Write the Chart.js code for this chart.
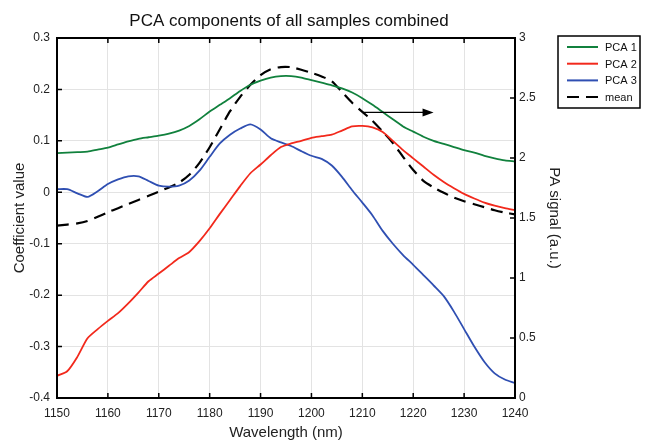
<!DOCTYPE html>
<html>
<head>
<meta charset="utf-8">
<script src="https://cdn.jsdelivr.net/npm/chart.js@4.4.1/dist/chart.umd.min.js"></script>
<style>
  html, body { margin:0; padding:0; background:#fff; }
  #wrap { width:647px; height:443px; }
</style>
</head>
<body>
<div id="wrap"><canvas id="pca"></canvas></div>
<script>
// data (2 nm steps)
const wavelengths = [1150,1152,1154,1156,1158,1160,1162,1164,1166,1168,1170,1172,1174,1176,1178,1180,1182,1184,1186,1188,1190,1192,1194,1196,1198,1200,1202,1204,1206,1208,1210,1212,1214,1216,1218,1220,1222,1224,1226,1228,1230,1232,1234,1236,1238,1240];

const pca1 = [0.076,0.077,0.078,0.079,0.083,0.087,0.093,0.099,0.104,0.107,0.110,0.114,0.120,0.129,0.142,0.157,0.170,0.183,0.197,0.209,0.217,0.223,0.226,0.226,0.223,0.218,0.213,0.208,0.202,0.194,0.183,0.170,0.156,0.142,0.128,0.118,0.108,0.100,0.094,0.088,0.082,0.077,0.071,0.066,0.062,0.060];

const pca2 = [-0.357,-0.348,-0.320,-0.284,-0.266,-0.250,-0.235,-0.216,-0.195,-0.173,-0.158,-0.143,-0.128,-0.116,-0.095,-0.070,-0.042,-0.015,0.012,0.037,0.054,0.072,0.088,0.095,0.100,0.106,0.109,0.112,0.120,0.128,0.129,0.126,0.117,0.100,0.082,0.066,0.050,0.034,0.020,0.008,-0.003,-0.012,-0.020,-0.026,-0.031,-0.035];

const pca3 = [0.006,0.006,-0.002,-0.009,0.002,0.016,0.025,0.031,0.031,0.022,0.013,0.011,0.013,0.023,0.042,0.069,0.095,0.112,0.124,0.132,0.122,0.105,0.097,0.090,0.080,0.071,0.065,0.052,0.030,0.004,-0.020,-0.045,-0.075,-0.100,-0.122,-0.141,-0.161,-0.181,-0.202,-0.232,-0.266,-0.300,-0.330,-0.352,-0.364,-0.371];

// mean PA signal, right axis
const meanSignal = [1.437,1.445,1.455,1.475,1.51,1.548,1.582,1.617,1.650,1.685,1.72,1.755,1.795,1.86,1.96,2.09,2.24,2.39,2.51,2.61,2.69,2.74,2.758,2.757,2.735,2.71,2.68,2.64,2.55,2.46,2.385,2.31,2.22,2.125,2.01,1.90,1.81,1.755,1.71,1.67,1.64,1.615,1.59,1.565,1.545,1.53];

const seriesLabels = ['PCA 1','PCA 2','PCA 3','mean'];
const seriesColors = ['#11813d','#f2291c','#2f4fb2','#000000'];

// arrow annotation: from/to wavelength at a PA signal level
const arrowFrom = 1210, arrowTo = 1224, arrowLevel = 2.38;

const FONT = '"Liberation Sans", Arial, sans-serif';
const pts = arr => wavelengths.map((w, i) => ({x: w, y: arr[i]}));

const frame = {
  id: 'frame',
  afterDraw(chart) {
    const {ctx, chartArea: a, scales} = chart;
    const x = scales.x, y = scales.y, y2 = scales.y2;
    ctx.save();
    // inward ticks
    ctx.strokeStyle = '#000'; ctx.lineWidth = 1.5;
    ctx.beginPath();
    x.ticks.forEach(t => {
      const px = x.getPixelForValue(t.value);
      ctx.moveTo(px, a.bottom); ctx.lineTo(px, a.bottom - 5);
      ctx.moveTo(px, a.top); ctx.lineTo(px, a.top + 5);
    });
    y.ticks.forEach(t => {
      const py = y.getPixelForValue(t.value);
      ctx.moveTo(a.left, py); ctx.lineTo(a.left + 5, py);
    });
    y2.ticks.forEach(t => {
      const py = y2.getPixelForValue(t.value);
      ctx.moveTo(a.right, py); ctx.lineTo(a.right - 5, py);
    });
    ctx.stroke();
    ctx.lineWidth = 2;
    ctx.strokeRect(a.left, a.top, a.right - a.left, a.bottom - a.top);

    // arrow pointing to the right axis
    const ay = y2.getPixelForValue(arrowLevel);
    const ax0 = x.getPixelForValue(arrowFrom), ax1 = x.getPixelForValue(arrowTo);
    ctx.lineWidth = 1.3;
    ctx.beginPath(); ctx.moveTo(ax0, ay); ctx.lineTo(ax1 - 4, ay); ctx.stroke();
    ctx.beginPath();
    ctx.moveTo(ax1, ay); ctx.lineTo(ax1 - 11, ay - 4); ctx.lineTo(ax1 - 11, ay + 4); ctx.closePath();
    ctx.fillStyle = '#000'; ctx.fill();

    // title
    ctx.fillStyle = '#111';
    ctx.font = '17px ' + FONT;
    ctx.textAlign = 'center'; ctx.textBaseline = 'middle';
    ctx.fillText('PCA components of all samples combined', (a.left + a.right) / 2 + 3, 21);

    // legend box
    const lx = 558, ly = 36, lw = 82, lh = 72;
    ctx.lineWidth = 1.5; ctx.strokeStyle = '#000';
    ctx.strokeRect(lx, ly, lw, lh);
    ctx.font = '11px ' + FONT; ctx.textAlign = 'left';
    chart.data.datasets.forEach((ds, i) => {
      const ry = ly + 11 + i * 16.7;
      ctx.strokeStyle = ds.borderColor; ctx.lineWidth = 2;
      ctx.setLineDash(ds.borderDash || []);
      ctx.beginPath(); ctx.moveTo(lx + 9, ry); ctx.lineTo(lx + 40, ry); ctx.stroke();
      ctx.setLineDash([]);
      ctx.fillStyle = '#111';
      ctx.fillText(ds.label, lx + 47, ry + 1);
    });
    ctx.restore();
  }
};

new Chart(document.getElementById('pca'), {
  type: 'line',
  data: {
    datasets: [
      {label: seriesLabels[0], data: pts(pca1), borderColor: seriesColors[0], yAxisID: 'y'},
      {label: seriesLabels[1], data: pts(pca2), borderColor: seriesColors[1], yAxisID: 'y'},
      {label: seriesLabels[2], data: pts(pca3), borderColor: seriesColors[2], yAxisID: 'y'},
      {label: seriesLabels[3], data: pts(meanSignal), borderColor: seriesColors[3], yAxisID: 'y2', borderDash: [12, 7], borderWidth: 2.2}
    ]
  },
  options: {
    responsive: true,
    maintainAspectRatio: false,
    animation: false,
    layout: {padding: {left: 0, right: 84, top: 38, bottom: 0}},
    elements: {
      point: {radius: 0},
      line: {borderWidth: 1.8, tension: 0.25, fill: false}
    },
    plugins: {legend: {display: false}, title: {display: false}, tooltip: {enabled: false}},
    scales: {
      x: {
        type: 'linear', min: 1150, max: 1240,
        afterFit: s => { s.height = 45; },
        border: {display: false},
        grid: {color: '#e3e3e3', drawTicks: false},
        ticks: {stepSize: 10, padding: 8, color: '#222', font: {family: FONT, size: 12}, callback: v => String(v)},
        title: {display: true, text: 'Wavelength (nm)', color: '#222', font: {family: FONT, size: 15}, padding: {bottom: 1}}
      },
      y: {
        position: 'left', min: -0.4, max: 0.3,
        afterFit: s => { s.width = 57; },
        border: {display: false},
        grid: {color: '#e3e3e3', drawTicks: false},
        ticks: {stepSize: 0.1, padding: 7, color: '#222', font: {family: FONT, size: 12}, callback: v => String(+v.toFixed(1))},
        title: {display: true, text: 'Coefficient value', color: '#222', font: {family: FONT, size: 15}, padding: {top: 11}}
      },
      y2: {
        position: 'right', min: 0, max: 3,
        afterFit: s => { s.width = 48; },
        border: {display: false},
        grid: {drawOnChartArea: false, drawTicks: false},
        ticks: {stepSize: 0.5, padding: 4, color: '#222', font: {family: FONT, size: 12}, callback: v => String(+v.toFixed(1))},
        title: {display: true, text: 'PA signal (a.u.)', color: '#222', font: {family: FONT, size: 15}, padding: {top: 0}}
      }
    }
  },
  plugins: [frame]
});
</script>
</body>
</html>
